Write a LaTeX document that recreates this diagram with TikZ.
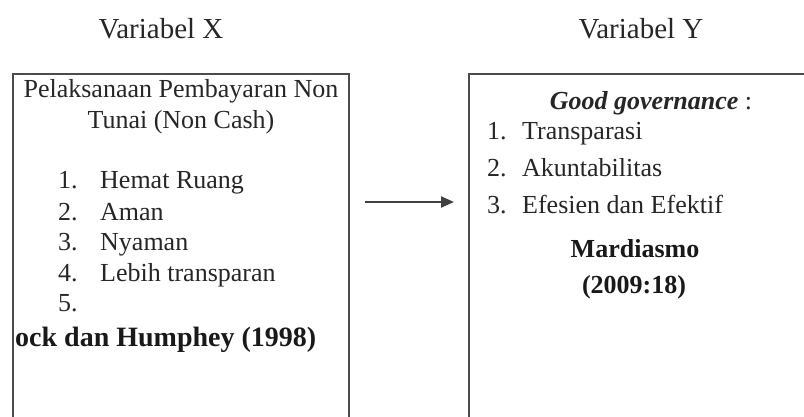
\documentclass[tikz,border=0pt]{standalone}
\usepackage{fontspec}
\setmainfont{Liberation Serif}
\usetikzlibrary{arrows.meta}
\tikzset{
  boxline/.style={draw=black!70, line width=1.6pt},
  txt/.style={inner sep=0pt, text=black!85, font=\fontsize{26}{30}\selectfont},
  ttl/.style={inner sep=0pt, text=black!85, font=\fontsize{29}{33}\selectfont},
  bld/.style={inner sep=0pt, text=black!90, font=\fontsize{26}{30}\selectfont\bfseries},
  conn/.style={draw=black!75, line width=2.2pt, -{Triangle[length=13pt,width=11pt]}}
}
\begin{document}
\begin{tikzpicture}[x=1pt,y=-1pt]
\useasboundingbox (0,0) rectangle (804,417);
% titles
\node[ttl, anchor=base] (tx) at (161,39) {Variabel X};
\node[ttl, anchor=base] (ty) at (641,39) {Variabel Y};
% boxes
\node[boxline, minimum width=336pt, minimum height=380pt, anchor=north west, inner sep=0pt] (boxX) at (12,73) {};
\node[boxline, minimum width=380pt, minimum height=380pt, anchor=north west, inner sep=0pt] (boxY) at (468,73) {};
% left box text
\node[txt, anchor=base] (lx1) at (181,98) {Pelaksanaan Pembayaran Non};
\node[txt, anchor=base] (lx2) at (181,129) {Tunai (Non Cash)};
\node[txt, anchor=base west] (n1) at (58,189) {1.};
\node[txt, anchor=base west] (i1) at (100,189) {Hemat Ruang};
\node[txt, anchor=base west] (n2) at (58,221) {2.};
\node[txt, anchor=base west] (i2) at (100,221) {Aman};
\node[txt, anchor=base west] (n3) at (58,251) {3.};
\node[txt, anchor=base west] (i3) at (100,251) {Nyaman};
\node[txt, anchor=base west] (n4) at (58,281) {4.};
\node[txt, anchor=base west] (i4) at (100,281) {Lebih transparan};
\node[txt, anchor=base west] (n5) at (58,311) {5.};
\node[bld, anchor=base west, font=\fontsize{28}{32}\selectfont\bfseries] (refx) at (15,346) {ock dan Humphey (1998)};
% right box text
\node[txt, anchor=base] (gg) at (651,110) {\textbf{\textit{Good governance}} :};
\node[txt, anchor=base west] (m1) at (487,140) {1.};
\node[txt, anchor=base west] (j1) at (522,140) {Transparasi};
\node[txt, anchor=base west] (m2) at (487,177) {2.};
\node[txt, anchor=base west] (j2) at (522,177) {Akuntabilitas};
\node[txt, anchor=base west] (m3) at (487,214) {3.};
\node[txt, anchor=base west] (j3) at (522,214) {Efesien dan Efektif};
\node[bld, anchor=base] (mar) at (635,258) {Mardiasmo};
\node[bld, anchor=base] (yr) at (634,293) {(2009:18)};
% arrow
\coordinate (aS) at (365,202);
\coordinate (aE) at (454,202);
\draw[conn] (aS) -- (aE);
\end{tikzpicture}
\end{document}
